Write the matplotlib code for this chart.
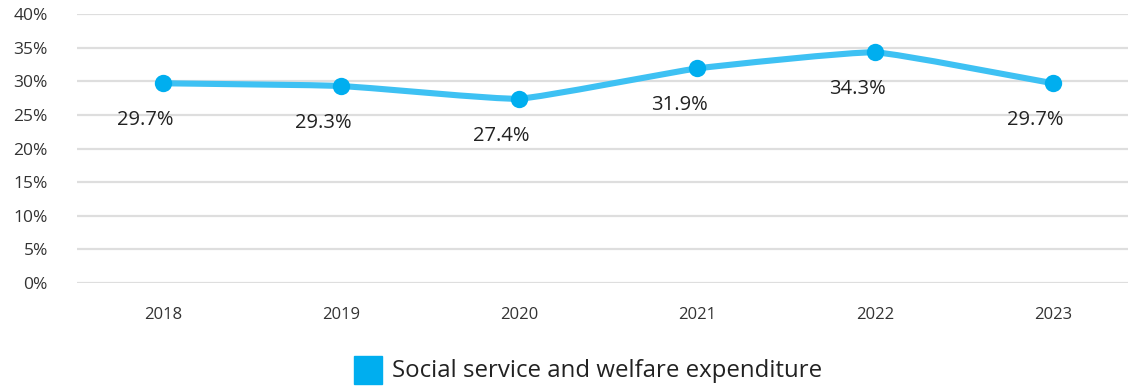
import matplotlib
matplotlib.use("Agg")
import matplotlib.pyplot as plt
from matplotlib.path import Path
from matplotlib.patches import PathPatch, Rectangle
import numpy as np

plt.rcParams['font.family'] = ['Open Sans', 'DejaVu Sans']

years = ["2018", "2019", "2020", "2021", "2022", "2023"]
values = [29.7, 29.3, 27.4, 31.9, 34.3, 29.7]
value_labels = ["29.7%", "29.3%", "27.4%", "31.9%", "34.3%", "29.7%"]
y_ticks = [0, 5, 10, 15, 20, 25, 30, 35, 40]
series_name = "Social service and welfare expenditure"

LINE_COLOR = "#3ec1f3"
MARK_COLOR = "#00aeef"
GRID_COLOR = "#dedede"
TEXT_COLOR = "#333333"

W, H = 1128, 389
fig = plt.figure(figsize=(W / 100, H / 100), dpi=100)
ax = fig.add_axes([77 / W, (H - 283) / H, (W - 77) / W, (283 - 14) / H])

xmin = -86 / 178
xmax = xmin + (W - 77) / 178
ax.set_xlim(xmin, xmax)
ax.set_ylim(0, 40)

for s in ax.spines.values():
    s.set_visible(False)
ax.set_yticks(y_ticks)
ax.set_yticklabels([f"{t}%" for t in y_ticks])
ax.yaxis.grid(True, color=GRID_COLOR, linewidth=1.6)
ax.set_axisbelow(True)
ax.tick_params(axis="y", length=0, pad=21, labelsize=12.5, labelcolor=TEXT_COLOR)
xs = np.arange(len(years))
ax.set_xticks(xs)
ax.set_xticklabels(years)
ax.tick_params(axis="x", length=0, pad=17, labelsize=12, labelcolor=TEXT_COLOR)

# lightly smoothed line through the points (cardinal spline as cubic Bezier segments)
sx, sy = 178.0, 269 / 40.0  # pixel scale per data unit
pts = np.column_stack([xs, values]).astype(float)
tension = 0.12
n = len(pts)
cps_in, cps_out = [], []
for i in range(n):
    prev = pts[max(i - 1, 0)]
    cur = pts[i]
    nxt = pts[min(i + 1, n - 1)]
    d01 = np.hypot((cur[0] - prev[0]) * sx, (cur[1] - prev[1]) * sy)
    d12 = np.hypot((nxt[0] - cur[0]) * sx, (nxt[1] - cur[1]) * sy)
    tot = d01 + d12 if d01 + d12 > 0 else 1
    fa = tension * d01 / tot
    fb = tension * d12 / tot
    cps_in.append(cur - fa * (nxt - prev))
    cps_out.append(cur + fb * (nxt - prev))
verts = [tuple(pts[0])]
codes = [Path.MOVETO]
for i in range(n - 1):
    verts += [tuple(cps_out[i]), tuple(cps_in[i + 1]), tuple(pts[i + 1])]
    codes += [Path.CURVE4] * 3
ax.add_patch(PathPatch(Path(verts, codes), facecolor="none", edgecolor=LINE_COLOR,
                       linewidth=4.4, capstyle="round", joinstyle="round", zorder=3))
ax.plot(xs, values, linestyle="none", marker="o", markersize=12.5,
        color=MARK_COLOR, markeredgewidth=0, zorder=4)

for x, v, lab in zip(xs, values, value_labels):
    ax.annotate(lab, (x, v), xytext=(-13, -26.5), textcoords="offset points",
                ha="center", va="center", fontsize=14.5, color="#222222")

# legend
fig.patches.append(Rectangle((354 / W, (H - 384) / H), 28 / W, 28 / H,
                             transform=fig.transFigure, color=MARK_COLOR))
fig.text(392 / W, (H - 371) / H, series_name, ha="left", va="center",
         fontsize=17.3, color="#222222")

fig.savefig("out.png", dpi=100)
